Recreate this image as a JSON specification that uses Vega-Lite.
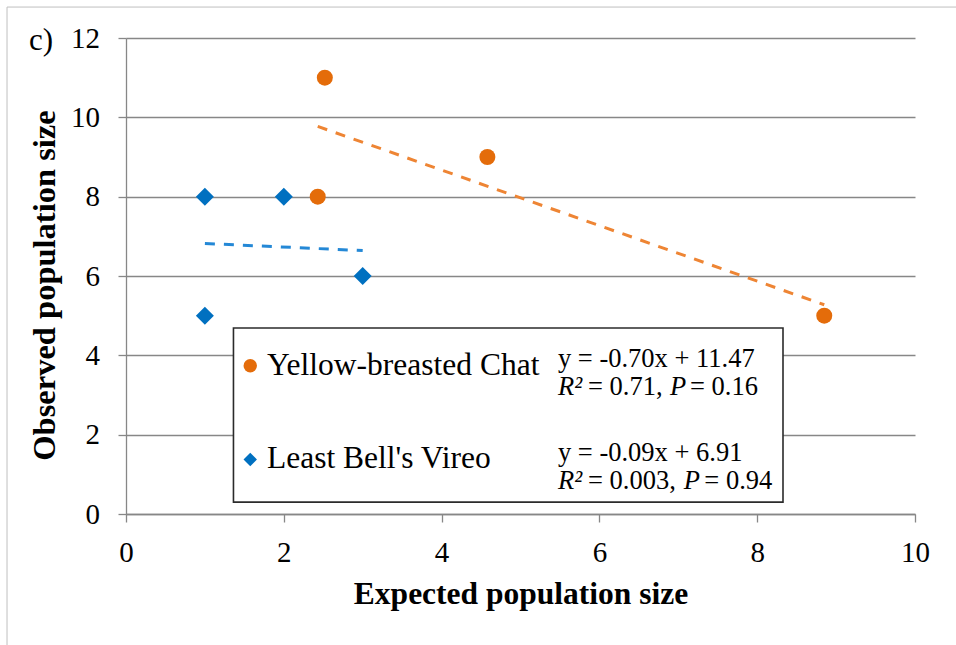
{
  "$schema": "https://vega.github.io/schema/vega-lite/v6.json",
  "width": 789,
  "height": 476,
  "autosize": {"type": "none"},
  "padding": {"left": 126, "top": 38, "right": 41, "bottom": 131},
  "background": "white",
  "config": {
    "font": "Liberation Serif",
    "view": {"stroke": null},
    "axis": {
      "labelFont": "Liberation Serif",
      "titleFont": "Liberation Serif",
      "labelColor": "black",
      "titleColor": "black",
      "labelFontSize": 29,
      "titleFontSize": 31.5,
      "titleFontWeight": "bold",
      "labelFlush": false,
      "labelOverlap": false,
      "domainColor": "#878787",
      "domainWidth": 1.3,
      "tickColor": "#878787",
      "tickWidth": 1.3,
      "tickSize": 8,
      "gridColor": "#878787",
      "gridWidth": 1.3
    }
  },
  "datasets": {
    "points": [
      {"series": "Yellow-breasted Chat", "expected": 2.52, "observed": 11},
      {"series": "Yellow-breasted Chat", "expected": 2.43, "observed": 8},
      {"series": "Yellow-breasted Chat", "expected": 4.58, "observed": 9},
      {"series": "Yellow-breasted Chat", "expected": 8.85, "observed": 5},
      {"series": "Least Bell's Vireo", "expected": 1, "observed": 8},
      {"series": "Least Bell's Vireo", "expected": 2, "observed": 8},
      {"series": "Least Bell's Vireo", "expected": 1, "observed": 5},
      {"series": "Least Bell's Vireo", "expected": 3, "observed": 6}
    ],
    "trend": [
      {"series": "Yellow-breasted Chat", "expected": 2.43, "fit": 9.77},
      {"series": "Yellow-breasted Chat", "expected": 8.85, "fit": 5.275},
      {"series": "Least Bell's Vireo", "expected": 1, "fit": 6.82},
      {"series": "Least Bell's Vireo", "expected": 3, "fit": 6.64}
    ]
  },
  "encoding": {
    "x": {
      "type": "quantitative",
      "scale": {"domain": [0, 10], "nice": false, "zero": false},
      "axis": {
        "values": [0, 2, 4, 6, 8, 10],
        "grid": false,
        "labelPadding": 16,
        "title": "Expected population size",
        "titlePadding": 11
      }
    },
    "y": {
      "type": "quantitative",
      "scale": {"domain": [0, 12], "nice": false, "zero": false},
      "axis": {
        "values": [0, 2, 4, 6, 8, 10, 12],
        "grid": true,
        "labelPadding": 18.5,
        "title": "Observed population size",
        "titleFontSize": 32.5,
        "titlePadding": 9,
        "titleY": 247
      }
    }
  },
  "layer": [
    {
      "data": {"values": [{"frame": "chart border"}]},
      "mark": {"type": "rect", "fill": "transparent", "stroke": "#BFBFBF", "strokeWidth": 1, "clip": false},
      "encoding": {
        "x": {"datum": -1.508, "type": "quantitative"},
        "x2": {"datum": 12},
        "y": {"datum": 12.78, "type": "quantitative"},
        "y2": {"datum": -5}
      }
    },
    {
      "data": {"values": [{"frame": "legend box"}]},
      "mark": {"type": "rect", "fill": "white", "stroke": "#2b2b2b", "strokeWidth": 1.6},
      "encoding": {
        "x": {"datum": 1.362, "type": "quantitative"},
        "x2": {"datum": 8.327},
        "y": {"datum": 4.69, "type": "quantitative"},
        "y2": {"datum": 0.3}
      }
    },
    {
      "data": {"name": "trend"},
      "transform": [{"filter": "datum.series === 'Yellow-breasted Chat'"}],
      "mark": {"type": "line", "color": "#EE8534", "strokeWidth": 3, "strokeDash": [10, 9]},
      "encoding": {
        "x": {"field": "expected", "type": "quantitative"},
        "y": {"field": "fit", "type": "quantitative"}
      }
    },
    {
      "data": {"name": "trend"},
      "transform": [{"filter": "datum.series === \"Least Bell's Vireo\""}],
      "mark": {"type": "line", "color": "#2488D6", "strokeWidth": 3, "strokeDash": [10, 9]},
      "encoding": {
        "x": {"field": "expected", "type": "quantitative"},
        "y": {"field": "fit", "type": "quantitative"}
      }
    },
    {
      "data": {"name": "points"},
      "transform": [{"filter": "datum.series === 'Yellow-breasted Chat'"}],
      "mark": {"type": "point", "filled": true, "opacity": 1, "size": 256, "strokeWidth": 0},
      "encoding": {
        "x": {"field": "expected", "type": "quantitative"},
        "y": {"field": "observed", "type": "quantitative"},
        "color": {
          "field": "series", "type": "nominal",
          "scale": {"domain": ["Yellow-breasted Chat", "Least Bell's Vireo"], "range": ["#E46C0A", "#0070C0"]},
          "legend": {"orient": "none", "legendX": 108.5, "legendY": 312, "title": null, "labelFont": "Liberation Serif", "labelFontSize": 31.5, "labelColor": "black", "symbolSize": 180, "rowPadding": 60.7, "labelOffset": 1, "padding": 0, "symbolStrokeWidth": 0, "labelLimit": 400}
        },
        "shape": {
          "field": "series", "type": "nominal",
          "scale": {"domain": ["Yellow-breasted Chat", "Least Bell's Vireo"], "range": ["circle", "diamond"]},
          "legend": {"orient": "none", "legendX": 108.5, "legendY": 312, "title": null, "labelFont": "Liberation Serif", "labelFontSize": 31.5, "labelColor": "black", "symbolSize": 180, "rowPadding": 60.7, "labelOffset": 1, "padding": 0, "symbolStrokeWidth": 0, "labelLimit": 400}
        }
      }
    },
    {
      "data": {"name": "points"},
      "transform": [{"filter": "datum.series === \"Least Bell's Vireo\""}],
      "mark": {"type": "point", "filled": true, "opacity": 1, "size": 324, "strokeWidth": 0},
      "encoding": {
        "x": {"field": "expected", "type": "quantitative"},
        "y": {"field": "observed", "type": "quantitative"},
        "color": {"field": "series", "type": "nominal"},
        "shape": {"field": "series", "type": "nominal"}
      }
    },
    {
      "data": {"values": [{"label": "c)"}]},
      "mark": {"type": "text", "align": "left", "baseline": "alphabetic", "fontSize": 31, "color": "black", "clip": false},
      "encoding": {
        "x": {"datum": -1.229, "type": "quantitative"},
        "y": {"datum": 11.7, "type": "quantitative"},
        "text": {"field": "label"}
      }
    },
    {
      "data": {"values": [{"label": "y = -0.70x + 11.47"}]},
      "mark": {"type": "text", "align": "left", "baseline": "alphabetic", "fontSize": 26.5, "color": "black"},
      "encoding": {"x": {"datum": 5.475, "type": "quantitative"}, "y": {"datum": 3.706, "type": "quantitative"}, "text": {"field": "label"}}
    },
    {
      "data": {"values": [{"label": "R²"}]},
      "mark": {"type": "text", "align": "left", "baseline": "alphabetic", "fontSize": 26.5, "fontStyle": "italic", "color": "black"},
      "encoding": {"x": {"datum": 5.475, "type": "quantitative"}, "y": {"datum": 3.0, "type": "quantitative"}, "text": {"field": "label"}}
    },
    {
      "data": {"values": [{"label": "= 0.71,"}]},
      "mark": {"type": "text", "align": "left", "baseline": "alphabetic", "fontSize": 26.5, "color": "black"},
      "encoding": {"x": {"datum": 5.856, "type": "quantitative"}, "y": {"datum": 3.0, "type": "quantitative"}, "text": {"field": "label"}}
    },
    {
      "data": {"values": [{"label": "P"}]},
      "mark": {"type": "text", "align": "left", "baseline": "alphabetic", "fontSize": 26.5, "fontStyle": "italic", "color": "black"},
      "encoding": {"x": {"datum": 6.895, "type": "quantitative"}, "y": {"datum": 3.0, "type": "quantitative"}, "text": {"field": "label"}}
    },
    {
      "data": {"values": [{"label": "= 0.16"}]},
      "mark": {"type": "text", "align": "left", "baseline": "alphabetic", "fontSize": 26.5, "color": "black"},
      "encoding": {"x": {"datum": 7.148, "type": "quantitative"}, "y": {"datum": 3.0, "type": "quantitative"}, "text": {"field": "label"}}
    },
    {
      "data": {"values": [{"label": "y = -0.09x + 6.91"}]},
      "mark": {"type": "text", "align": "left", "baseline": "alphabetic", "fontSize": 26.5, "color": "black"},
      "encoding": {"x": {"datum": 5.475, "type": "quantitative"}, "y": {"datum": 1.336, "type": "quantitative"}, "text": {"field": "label"}}
    },
    {
      "data": {"values": [{"label": "R²"}]},
      "mark": {"type": "text", "align": "left", "baseline": "alphabetic", "fontSize": 26.5, "fontStyle": "italic", "color": "black"},
      "encoding": {"x": {"datum": 5.475, "type": "quantitative"}, "y": {"datum": 0.63, "type": "quantitative"}, "text": {"field": "label"}}
    },
    {
      "data": {"values": [{"label": "= 0.003,"}]},
      "mark": {"type": "text", "align": "left", "baseline": "alphabetic", "fontSize": 26.5, "color": "black"},
      "encoding": {"x": {"datum": 5.856, "type": "quantitative"}, "y": {"datum": 0.63, "type": "quantitative"}, "text": {"field": "label"}}
    },
    {
      "data": {"values": [{"label": "P"}]},
      "mark": {"type": "text", "align": "left", "baseline": "alphabetic", "fontSize": 26.5, "fontStyle": "italic", "color": "black"},
      "encoding": {"x": {"datum": 7.07, "type": "quantitative"}, "y": {"datum": 0.63, "type": "quantitative"}, "text": {"field": "label"}}
    },
    {
      "data": {"values": [{"label": "= 0.94"}]},
      "mark": {"type": "text", "align": "left", "baseline": "alphabetic", "fontSize": 26.5, "color": "black"},
      "encoding": {"x": {"datum": 7.33, "type": "quantitative"}, "y": {"datum": 0.63, "type": "quantitative"}, "text": {"field": "label"}}
    }
  ]
}
